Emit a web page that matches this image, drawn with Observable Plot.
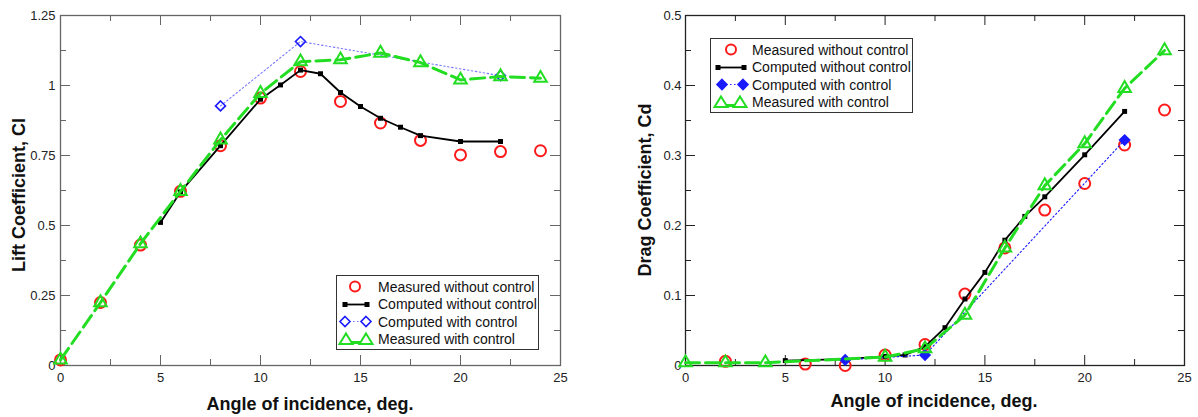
<!DOCTYPE html>
<html><head><meta charset="utf-8">
<script src="https://cdn.jsdelivr.net/npm/d3@7"></script>
<script src="https://cdn.jsdelivr.net/npm/@observablehq/plot@0.6"></script>
<style>
body{margin:0;background:#fff;font-family:"Liberation Sans",Arial,sans-serif;}
#wrap{position:relative;width:1198px;height:417px;overflow:hidden;background:#fff;}
.panel{position:absolute;top:0;}
.xlabel{position:absolute;font-weight:bold;font-size:18px;color:#111;white-space:nowrap;transform:translateX(-50%);}
.ylabel{position:absolute;font-weight:bold;font-size:18px;color:#111;white-space:nowrap;transform:translate(-50%,-50%) rotate(-90deg);}
.legend{position:absolute;background:#fff;font-size:14px;color:#111;box-sizing:border-box;padding-top:2px;}
.legend .row{height:17.5px;display:flex;align-items:center;}
.legend svg{flex:none;}
</style>
</head><body>
<div id="wrap"></div>
<script>
// ---------- data ----------
const xMajor = [0, 5, 10, 15, 20, 25];
const xMinor = [2.5, 7.5, 12.5, 17.5, 22.5];
const liftTicks = [0, 0.25, 0.5, 0.75, 1, 1.25];
const liftMinor = [0.125, 0.375, 0.625, 0.875, 1.125];
const dragTicks = [0, 0.1, 0.2, 0.3, 0.4, 0.5];
const dragMinor = [0.05, 0.15, 0.25, 0.35, 0.45];

const seriesNames = ["Measured without control", "Computed without control", "Computed with control", "Measured with control"];

// Lift coefficient
const liftMeasNoCtrlX = [0, 2, 4, 6, 8, 10, 12, 14, 16, 18, 20, 22, 24];
const liftMeasNoCtrlY = [0.02, 0.225, 0.43, 0.622, 0.785, 0.955, 1.05, 0.943, 0.866, 0.804, 0.752, 0.764, 0.767];
const liftCompNoCtrlX = [5, 6, 8, 10, 11, 12, 13, 14, 15, 16, 17, 18, 20, 22];
const liftCompNoCtrlY = [0.511, 0.62, 0.785, 0.951, 1.002, 1.055, 1.042, 0.975, 0.925, 0.883, 0.851, 0.821, 0.80, 0.80];
const liftCompCtrlX = [8, 12, 22];
const liftCompCtrlY = [0.927, 1.157, 1.035];
const liftMeasCtrlX = [0, 2, 4, 6, 8, 10, 12, 14, 16, 18, 20, 22, 24];
const liftMeasCtrlY = [0.02, 0.225, 0.435, 0.622, 0.806, 0.972, 1.085, 1.092, 1.116, 1.082, 1.02, 1.032, 1.026];

// Drag coefficient
const dragMeasNoCtrlX = [2, 6, 8, 10, 12, 14, 16, 18, 20, 22, 24];
const dragMeasNoCtrlY = [0.006, 0.002, 0.0, 0.015, 0.03, 0.102, 0.168, 0.222, 0.26, 0.315, 0.365];
const dragCompNoCtrlX = [5, 8, 10, 11, 12, 13, 14, 15, 16, 17, 18, 20, 22];
const dragCompNoCtrlY = [0.007, 0.009, 0.013, 0.015, 0.027, 0.054, 0.095, 0.133, 0.179, 0.213, 0.241, 0.301, 0.363];
const dragCompCtrlX = [8, 12, 22];
const dragCompCtrlY = [0.008, 0.015, 0.322];
const dragMeasCtrlX = [0, 2, 4, 10, 12, 14, 16, 18, 20, 22, 24];
const dragMeasCtrlY = [0.004, 0.004, 0.004, 0.012, 0.024, 0.072, 0.168, 0.257, 0.317, 0.396, 0.45];

const zip = (xs, ys) => xs.map((x, i) => ({x, y: ys[i]}));

const RED = "#ff1a1a", BLACK = "#000", BLUE = "#1a1aff", GREEN = "#22dd22";

const H = 417, MT = 15, MB = 52;

function makeChart(o) {
  const ph = H - MT - MB;
  const pw = o.width - o.ml - o.mr;
  const fs = o.frameColor;
  const marks = [
    Plot.axisX(xMajor, {tickSize: 0, tickPadding: 7, tickFormat: d => String(d), label: null}),
    Plot.axisY(o.yTicks, {tickSize: 0, tickPadding: o.ypad, tickFormat: d => String(d), label: null}),
    Plot.tickX(xMajor, {x: d => d, insetTop: ph - 10, stroke: fs}),
    Plot.tickX(xMajor, {x: d => d, insetBottom: ph - 10, stroke: fs}),
    Plot.tickX(xMinor, {x: d => d, insetTop: ph - 6, stroke: fs}),
    Plot.tickX(xMinor, {x: d => d, insetBottom: ph - 6, stroke: fs}),
    Plot.tickY(o.yTicks, {y: d => d, insetRight: pw - 10, stroke: fs}),
    Plot.tickY(o.yTicks, {y: d => d, insetLeft: pw - 10, stroke: fs}),
    Plot.tickY(o.yMinor, {y: d => d, insetRight: pw - 6, stroke: fs}),
    Plot.tickY(o.yMinor, {y: d => d, insetLeft: pw - 6, stroke: fs}),
    Plot.frame({stroke: fs, strokeWidth: 1.3}),
    Plot.dot(o.measNo, {x: "x", y: "y", r: 5.5, stroke: RED, strokeWidth: 2, fill: "none"}),
    Plot.line(o.compNo, {x: "x", y: "y", stroke: BLACK, strokeWidth: 1.8}),
    Plot.dot(o.compNo, {x: "x", y: "y", symbol: "square", r: 2.8, fill: BLACK}),
    Plot.line(o.compCtrl, {x: "x", y: "y", stroke: o.blueLine, strokeWidth: 1.1, strokeDasharray: "1.5,2.5"}),
    Plot.dot(o.compCtrl, {x: "x", y: "y", symbol: "diamond2", r: 4.5, stroke: BLUE, strokeWidth: 1.6, fill: o.diamondFill}),
    Plot.line(o.measCtrl, {x: "x", y: "y", stroke: GREEN, strokeWidth: 3, strokeDasharray: "14,6"}),
    Plot.dot(o.measCtrl, {x: "x", y: "y", symbol: "triangle2", r: 6, stroke: GREEN, strokeWidth: 2, fill: "none"})
  ];
  return Plot.plot({
    width: o.width, height: H,
    marginLeft: o.ml, marginRight: o.mr, marginTop: MT, marginBottom: MB,
    x: {domain: [0, 25]},
    y: {domain: o.yDomain},
    style: {fontFamily: "'Liberation Sans', Arial, sans-serif", fontSize: "13px", color: "#222", background: "white", overflow: "visible"},
    marks
  });
}

const wrap = document.getElementById("wrap");

function addPanel(left, svg) {
  const d = document.createElement("div");
  d.className = "panel";
  d.style.left = left + "px";
  d.appendChild(svg);
  wrap.appendChild(d);
}

addPanel(0, makeChart({
  width: 600, ml: 60, mr: 40, ypad: 5,
  yDomain: [0, 1.25], yTicks: liftTicks, yMinor: liftMinor,
  frameColor: "#666",
  measNo: zip(liftMeasNoCtrlX, liftMeasNoCtrlY),
  compNo: zip(liftCompNoCtrlX, liftCompNoCtrlY),
  compCtrl: zip(liftCompCtrlX, liftCompCtrlY),
  measCtrl: zip(liftMeasCtrlX, liftMeasCtrlY),
  blueLine: "#7777ff", diamondFill: "none"
}));

addPanel(600, makeChart({
  width: 598, ml: 85, mr: 14, ypad: 4,
  yDomain: [0, 0.5], yTicks: dragTicks, yMinor: dragMinor,
  frameColor: "#222",
  measNo: zip(dragMeasNoCtrlX, dragMeasNoCtrlY),
  compNo: zip(dragCompNoCtrlX, dragCompNoCtrlY),
  compCtrl: zip(dragCompCtrlX, dragCompCtrlY),
  measCtrl: zip(dragMeasCtrlX, dragMeasCtrlY),
  blueLine: BLUE, diamondFill: BLUE
}));

function addText(cls, text, x, y) {
  const d = document.createElement("div");
  d.className = cls;
  d.textContent = text;
  d.style.left = x + "px";
  d.style.top = y + "px";
  wrap.appendChild(d);
}
addText("xlabel", "Angle of incidence, deg.", 310, 394);
addText("xlabel", "Angle of incidence, deg.", 934, 391);
addText("ylabel", "Lift Coefficient, Cl", 19, 195);
addText("ylabel", "Drag Coefficient, Cd", 645, 190);

// legends: icon geometry in px relative to the legend box
function icon(kind, filledDiamond, g) {
  const w = 40, h = 17, m = h / 2;
  let s = `<svg width="${w}" height="${h}" viewBox="0 0 ${w} ${h}">`;
  if (kind === 0) {
    s += `<circle cx="${g.circle}" cy="${m}" r="5" fill="none" stroke="${RED}" stroke-width="2"/>`;
  } else if (kind === 1) {
    const [a, b] = g.line;
    s += `<line x1="${a}" x2="${b}" y1="${m}" y2="${m}" stroke="#000" stroke-width="1.8"/>`;
    s += `<rect x="${a - 2.5}" y="${m - 2.5}" width="5" height="5" fill="#000"/><rect x="${b - 2.5}" y="${m - 2.5}" width="5" height="5" fill="#000"/>`;
  } else if (kind === 2) {
    const [a, b] = g.diam;
    s += `<line x1="${a}" x2="${b}" y1="${m}" y2="${m}" stroke="${filledDiamond ? BLUE : "#7777ff"}" stroke-width="1.1" stroke-dasharray="1.5,2.5"/>`;
    for (const c of [a, b]) s += `<path d="M${c},${m - 5}L${c + 5},${m}L${c},${m + 5}L${c - 5},${m}Z" fill="${filledDiamond ? BLUE : "white"}" stroke="${BLUE}" stroke-width="1.6"/>`;
  } else {
    const [a, b] = g.tri;
    s += `<line x1="${a}" x2="${b}" y1="${m + 3}" y2="${m + 3}" stroke="${GREEN}" stroke-width="3"/>`;
    for (const c of [a, b]) s += `<path d="M${c},${m - 6}L${c + 6.5},${m + 4.5}L${c - 6.5},${m + 4.5}Z" fill="white" stroke="${GREEN}" stroke-width="2"/>`;
  }
  return s + "</svg>";
}
function addLegend(left, top, filledDiamond, g) {
  const d = document.createElement("div");
  d.className = "legend";
  d.style.left = left + "px";
  d.style.top = top + "px";
  d.style.width = "203px";
  d.style.height = "75px";
  d.style.border = "1.3px solid #333";
  d.innerHTML = seriesNames.map((n, i) => `<div class="row">${icon(i, filledDiamond, g)}<span style="margin-left:1px">${n}</span></div>`).join("");
  wrap.appendChild(d);
}
addLegend(336, 275, false, {circle: 18, line: [8, 30], diam: [8, 29], tri: [9, 29]});
addLegend(710, 38, true, {circle: 20, line: [7, 33], diam: [11, 32], tri: [10, 29]});
</script>
</body></html>
